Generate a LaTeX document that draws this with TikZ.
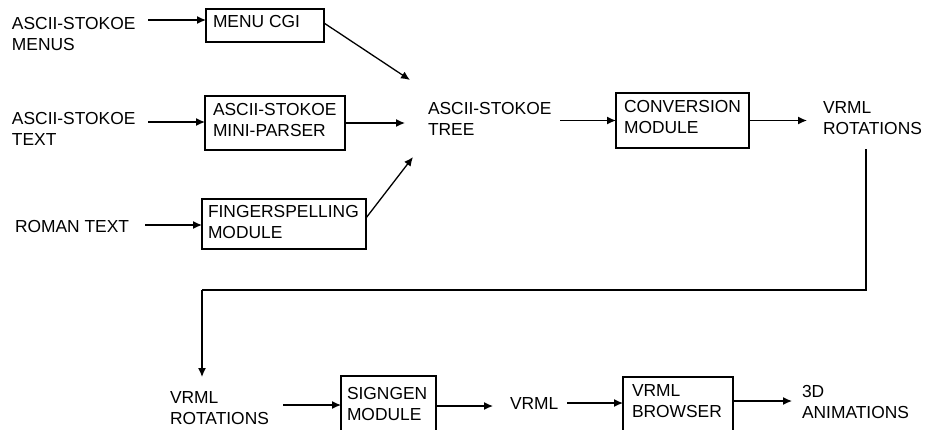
\documentclass[tikz,border=0pt]{standalone}
\usepackage{fontspec}
\setmainfont{Liberation Sans}
\usetikzlibrary{arrows.meta}
\begin{document}
\begin{tikzpicture}[x=1pt,y=-1pt,
  every node/.style={inner sep=0pt, outer sep=0pt},
  txt/.style={font=\fontsize{17.4}{21}\selectfont, align=left, anchor=north west},
  box/.style={draw, line width=1.3pt, anchor=north west},
  arr/.style={line width=1.3pt, -{Latex[length=9pt,width=8pt]}},
  ln/.style={line width=1.3pt}]
\useasboundingbox (0,0) rectangle (929,429);
\clip (0,0) rectangle (929,429);
% boxes
\node[box, minimum width=118, minimum height=33] (menu) at (206,9) {};
\node[box, minimum width=140, minimum height=54] (parser) at (205,96) {};
\node[box, minimum width=164, minimum height=50] (finger) at (202,199) {};
\node[box, minimum width=133, minimum height=55] (conv) at (616,93) {};
\node[box, minimum width=95, minimum height=70] (signgen) at (341,376) {};
\node[box, minimum width=110, minimum height=70] (browser) at (623,377) {};
% texts
\node[txt] (tmenus) at (12,17) {ASCII-STOKOE\\MENUS};
\node[txt] (tmenu) at (213,15) {MENU CGI};
\node[txt] (ttext) at (12,112) {ASCII-STOKOE\\TEXT};
\node[txt] (tparser) at (213,103) {ASCII-STOKOE\\MINI-PARSER};
\node[txt] (troman) at (15,220) {ROMAN TEXT};
\node[txt] (tfinger) at (208,205) {FINGERSPELLING\\MODULE};
\node[txt] (ttree) at (428,102) {ASCII-STOKOE\\TREE};
\node[txt] (tconv) at (624,100) {CONVERSION\\MODULE};
\node[txt] (trot1) at (823,102) {VRML\\ROTATIONS};
\node[txt] (trot2) at (170,392) {VRML\\ROTATIONS};
\node[txt] (tsign) at (347,387) {SIGNGEN\\MODULE};
\node[txt] (tvrml) at (510,398) {VRML};
\node[txt] (tbrow) at (632,385) {VRML\\BROWSER};
\node[txt] (tanim) at (802,385) {3D\\ANIMATIONS};
% free ends
\coordinate (s1) at (148,20);
\coordinate (e2) at (410,80);
\coordinate (s3) at (148,122);
\coordinate (e4) at (405,123);
\coordinate (e5) at (413,157);
\coordinate (s6) at (145,225);
\coordinate (s7) at (560,120.5);
\coordinate (e8) at (807,120.5);
\coordinate (r1) at (866,149);
\coordinate (r2) at (866,290);
\coordinate (r3) at (202,290);
\coordinate (r4) at (202,377);
\coordinate (s9) at (283,405);
\coordinate (e10) at (493,406);
\coordinate (s11) at (567,403);
\coordinate (e12) at (792,401);
% connectors
\draw[arr] (s1) -- (menu.west |- s1);
\draw[arr] ([yshift=-14pt]menu.north east) -- (e2);
\draw[arr] (s3) -- (parser.west |- s3);
\draw[arr] (parser.east) -- (e4);
\draw[arr] ([yshift=-19pt]finger.north east) -- (e5);
\draw[arr] (s6) -- (finger.west |- s6);
\draw[arr] (s7) -- (conv.west);
\draw[arr] (conv.east) -- (e8);
\draw[ln] (r1) -- (r2) -- (r3);
\draw[arr] (r3) -- (r4);
\draw[arr] (s9) -- (signgen.west |- s9);
\draw[arr] (signgen.east |- e10) -- (e10);
\draw[arr] (s11) -- (browser.west |- s11);
\draw[arr] (browser.east |- e12) -- (e12);
\end{tikzpicture}
\end{document}
